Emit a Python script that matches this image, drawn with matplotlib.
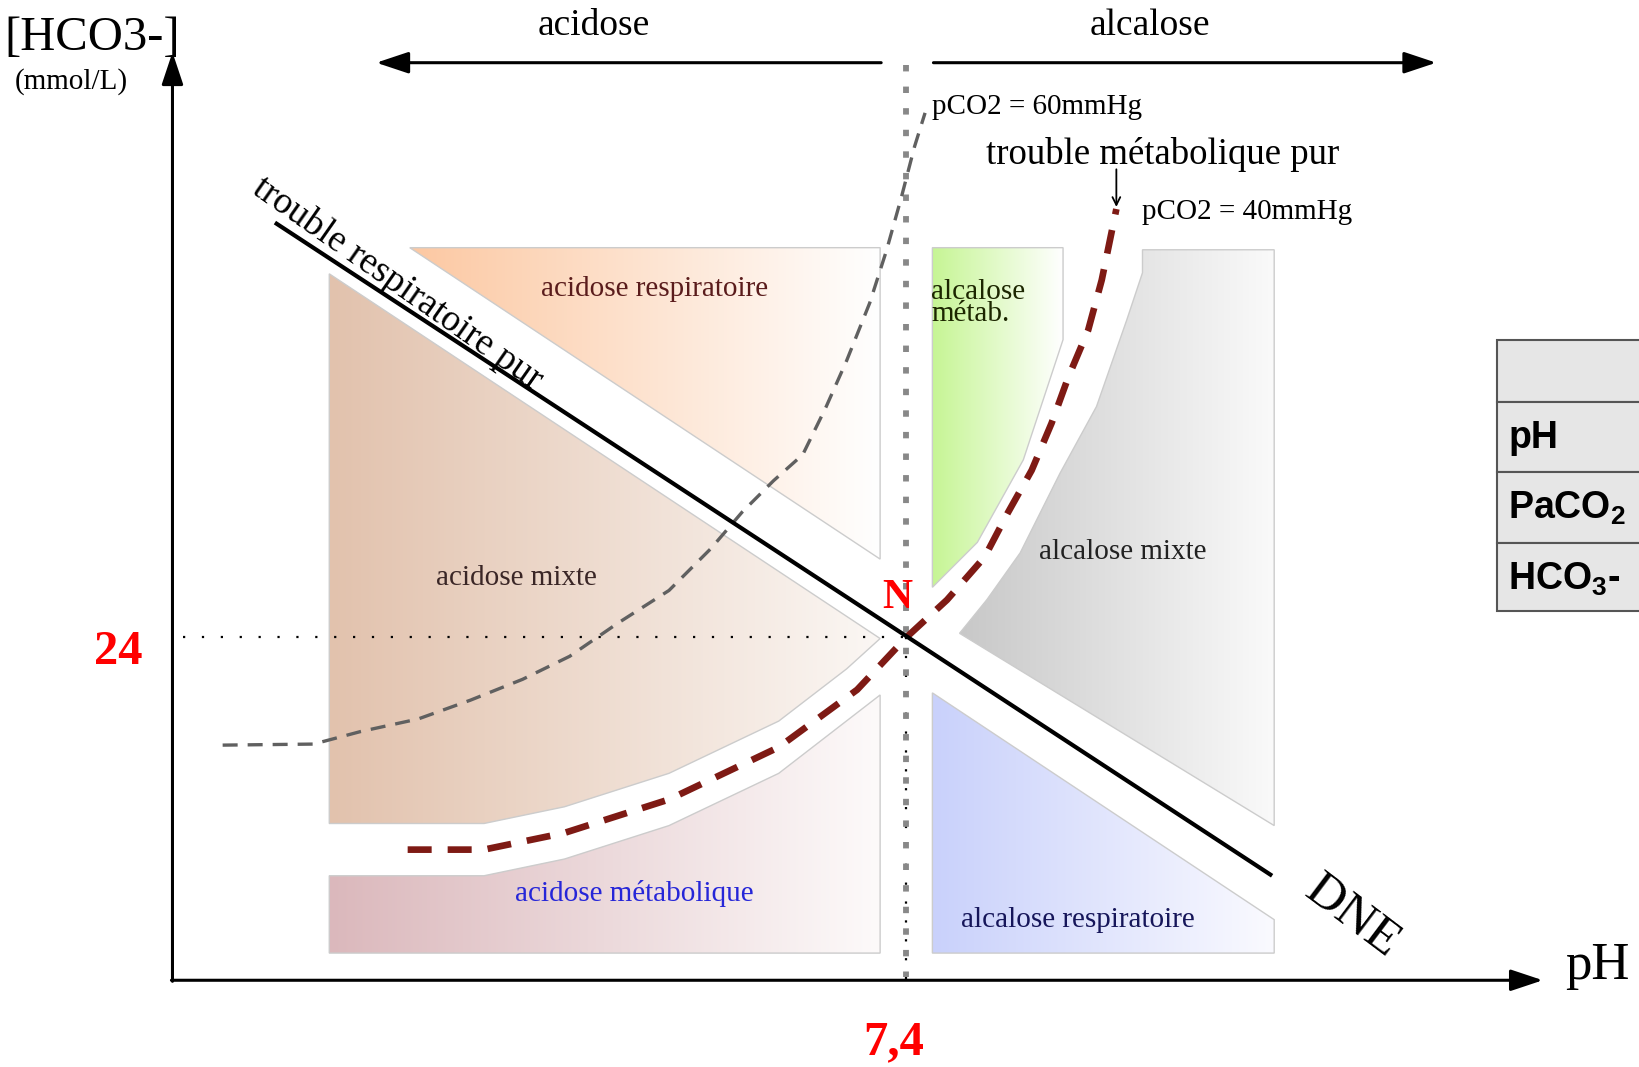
import numpy as np
import matplotlib.pyplot as plt
from matplotlib.patches import Polygon, Rectangle
from matplotlib.colors import to_rgb

plt.rcParams['font.family'] = ['Liberation Serif', 'DejaVu Serif']
plt.rcParams['mathtext.fontset'] = 'custom'
plt.rcParams['mathtext.rm'] = 'Liberation Sans:bold'

# diagram frame (pixel-like units, y grows downward)
W, H = 1568, 1021
origin = (165, 938)
normal_pt = (867, 610)          # N : pH 7,4 / HCO3- 24

# DNE line (trouble respiratoire pur)
dne_x = [263, 1217]
dne_y = [213, 838]

# pCO2 = 40 mmHg isobar (trouble metabolique pur)
pco2_40_x = [390, 463, 540, 640, 745, 820, 867, 906, 942, 964, 987, 1006, 1022, 1041, 1054, 1068]
pco2_40_y = [813, 813, 797, 765, 715, 660, 610, 574, 533, 491, 450, 405, 361, 316, 268, 200]

# pCO2 = 60 mmHg isobar
pco2_60_x = [213, 300, 345, 400, 450, 500, 545, 590, 640, 680, 710, 740, 768, 790, 810, 832, 848, 862, 875, 885]
pco2_60_y = [713, 712, 700, 688, 670, 650, 628, 597, 565, 525, 490, 460, 435, 390, 345, 290, 240, 190, 140, 108]

# zones
acid_resp = [(392, 237), (842, 237), (842, 535)]
acid_mixte = [(315, 262), (842, 611), (810, 640), (745, 690), (640, 740), (540, 772), (463, 788), (315, 788)]
acid_meta = [(315, 838), (463, 838), (540, 822), (640, 790), (745, 740), (842, 665), (842, 912), (315, 912)]
alca_meta = [(892, 237), (1017, 237), (1017, 325), (979, 440), (935, 519), (892, 562)]
alca_mixte = [(1093, 239), (1219, 239), (1219, 790), (918, 606), (944, 574), (976, 529),
              (1014, 453), (1049, 389), (1078, 306), (1093, 261)]
alca_resp = [(892, 663), (1219, 880), (1219, 912), (892, 912)]

table_rows = ['', 'pH', r'PaCO$_2$', r'HCO$_3$-']
table_edges = [325, 385, 452, 520, 585]


def gradient_zone(ax, pts, c_left, c_right):
    pts = np.array(pts, dtype=float)
    poly = Polygon(pts, closed=True, facecolor='none', edgecolor='#cccccc', lw=1, zorder=2)
    ax.add_patch(poly)
    t = np.linspace(0, 1, 256)[None, :, None]
    img = (1 - t) * np.array(to_rgb(c_left)) + t * np.array(to_rgb(c_right))
    x0, x1 = pts[:, 0].min(), pts[:, 0].max()
    y0, y1 = pts[:, 1].min(), pts[:, 1].max()
    im = ax.imshow(img, extent=[x0, x1, y1, y0], aspect='auto', zorder=1, interpolation='bilinear')
    im.set_clip_path(poly)


fig = plt.figure(figsize=(16.39, 10.67), dpi=100)
ax = fig.add_axes([0, 0, 1, 1])

gradient_zone(ax, acid_resp, '#fcc8a2', '#ffffff')
gradient_zone(ax, acid_mixte, '#e2c2ad', '#fbf7f4')
gradient_zone(ax, acid_meta, '#dbb8bc', '#fdfafa')
gradient_zone(ax, alca_meta, '#c6f594', '#ffffff')
gradient_zone(ax, alca_mixte, '#c8c8c8', '#fafafa')
gradient_zone(ax, alca_resp, '#c9d1fb', '#fafaff')

# reference dotted lines
ax.plot([175, normal_pt[0]], [normal_pt[1], normal_pt[1]], color='black', lw=1.6,
        dashes=(1, 7.5), zorder=3)
ax.plot([normal_pt[0], normal_pt[0]], [normal_pt[1], origin[1]], color='black', lw=1.6,
        dashes=(1, 7.5), zorder=3)
ax.plot([normal_pt[0], normal_pt[0]], [62, 935], color='#888888', lw=4.2, solid_capstyle='butt',
        dash_capstyle='butt', dashes=(1.1, 2.6), zorder=3)

# isobars
ax.plot(pco2_60_x, pco2_60_y, color='#606060', lw=2.4, dashes=(4.5, 3), zorder=4)
ax.plot(pco2_40_x, pco2_40_y, color='#7e1a14', lw=4.8, dashes=(3.6, 2.4), zorder=5)

# DNE
ax.plot(dne_x, dne_y, color='black', lw=3, solid_capstyle='butt', zorder=6)

# axes arrows
arrow = dict(arrowstyle='-|>,head_length=0.9,head_width=0.3', lw=2.2, color='black',
             shrinkA=0, shrinkB=0, mutation_scale=22)
ax.annotate('', xy=(origin[0], 50), xytext=(origin[0], origin[1] + 1), arrowprops=arrow)
ax.annotate('', xy=(1476, origin[1]), xytext=(origin[0] - 1, origin[1]), arrowprops=arrow)
ax.annotate('', xy=(360, 60), xytext=(843, 60), arrowprops=arrow)
ax.annotate('', xy=(1374, 60), xytext=(893, 60), arrowprops=arrow)
ax.annotate('', xy=(1068, 198), xytext=(1068, 162),
            arrowprops=dict(arrowstyle='->', lw=1.3, color='black', shrinkA=0, shrinkB=0,
                            mutation_scale=14))

# axis labels
ax.text(88, 36, '[HCO3-]', fontsize=35, ha='center', va='center')
ax.text(68, 78, '(mmol/L)', fontsize=21, ha='center', va='center')
ax.text(1528, 924, 'pH', fontsize=38, ha='center', va='center')
ax.text(568, 25, 'acidose', fontsize=27, ha='center', va='center')
ax.text(1100, 25, 'alcalose', fontsize=27, ha='center', va='center')
ax.text(113, 624, '24', fontsize=35, color='red', weight='bold', ha='center', va='center')
ax.text(855, 997, '7,4', fontsize=35, color='red', weight='bold', ha='center', va='center')
ax.text(858, 572, 'N', fontsize=30, color='red', weight='bold', ha='center', va='center', zorder=7)

# curve labels
ax.text(892, 102, 'pCO2 = 60mmHg', fontsize=21, ha='left', va='center')
ax.text(1112, 148, 'trouble métabolique pur', fontsize=26.5, ha='center', va='center')
ax.text(1093, 203, 'pCO2 = 40mmHg', fontsize=21, ha='left', va='center')
ax.text(240, 184, 'trouble respiratoire pur', fontsize=27, rotation=-35, rotation_mode='anchor',
        ha='left', va='baseline')
ax.text(1293, 877, 'DNE', fontsize=37, rotation=-37, rotation_mode='anchor',
        ha='center', va='center')

# zone labels
ax.text(626, 277, 'acidose respiratoire', fontsize=21, color='#5a1c1c', ha='center', va='center')
ax.text(494, 553, 'acidose mixte', fontsize=21, color='#3a2626', ha='center', va='center')
ax.text(607, 855, 'acidose métabolique', fontsize=21, color='#2626d8', ha='center', va='center')
ax.text(891, 290, 'alcalose\nmétab.', fontsize=21, color='#1c2600', ha='left', va='center',
        linespacing=0.8)
ax.text(1074, 528, 'alcalose mixte', fontsize=21, color='#222222', ha='center', va='center')
ax.text(1031, 880, 'alcalose respiratoire', fontsize=21, color='#16165a', ha='center', va='center')

# partial table on the right
for top, bottom, label in zip(table_edges[:-1], table_edges[1:], table_rows):
    ax.add_patch(Rectangle((1432, top), 200, bottom - top, facecolor='#e6e6e6',
                           edgecolor='#555555', lw=1.5, zorder=2))
    ax.text(1443, top + 44, label, fontsize=27, weight='bold',
            family=['Liberation Sans', 'DejaVu Sans'], ha='left', va='baseline', zorder=3)

ax.set_xlim(0, W)
ax.set_ylim(H, 0)
ax.axis('off')
fig.savefig('out.png', dpi=100)
